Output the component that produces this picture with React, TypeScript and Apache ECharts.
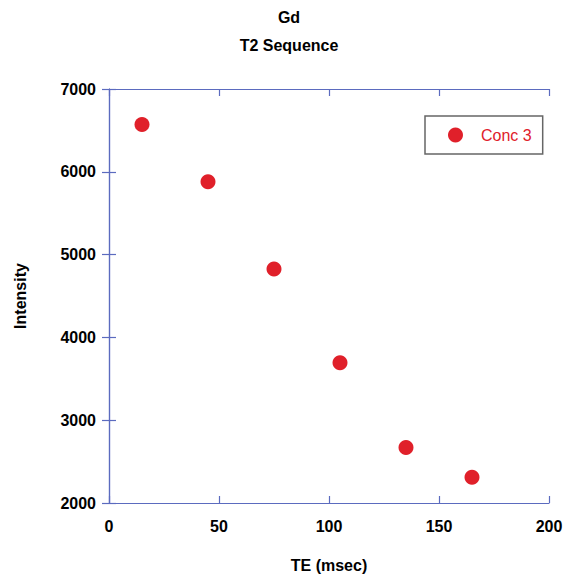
import React, { useEffect, useRef } from "react";
import * as echarts from "echarts";

const seriesName = "Conc 3";
const teValues = [15, 45, 75, 105, 135, 165];
const intensityValues = [6570, 5880, 4825, 3695, 2670, 2310];
const titleLines = ["Gd", "T2 Sequence"];
const xName = "TE (msec)";
const yName = "Intensity";

const AXIS_COLOR = "#5b6bbf";
const RED = "#e0202a";
const FONT = "Liberation Sans, Arial, sans-serif";

export default function App() {
  const ref = useRef<HTMLDivElement>(null);
  useEffect(() => {
    if (!ref.current) return;
    const chart = echarts.init(ref.current, undefined, { renderer: "svg" });
    const data = teValues.map((x, i) => [x, intensityValues[i]]);
    const grid = { left: 109, top: 89, width: 440, height: 415 };
    const tickCommon = { show: true, inside: true, length: 7, lineStyle: { color: AXIS_COLOR, width: 1.2 } };
    const lineCommon = { show: true, lineStyle: { color: AXIS_COLOR, width: 1.2 } };
    const labelCommon = {
      color: "#000",
      fontFamily: FONT,
      fontWeight: "bold" as const,
      fontSize: 16,
      formatter: (v: number) => String(v),
    };
    chart.setOption({
      animation: false,
      backgroundColor: "#fff",
      title: {
        text: titleLines.join("\n"),
        left: 289,
        top: 3,
        padding: 0,
        textAlign: "center",
        textStyle: { fontFamily: FONT, fontWeight: "bold", fontSize: 16, color: "#000", lineHeight: 28 },
      },
      grid,
      legend: {
        left: 425,
        top: 116,
        orient: "vertical",
        backgroundColor: "#fff",
        borderColor: "#666",
        borderWidth: 1.5,
        borderRadius: 0,
        padding: [11, 11, 11, 23],
        itemWidth: 15,
        itemHeight: 15,
        icon: "circle",
        textStyle: { color: RED, fontFamily: FONT, fontSize: 16, padding: [0, 0, 0, 13] },
        data: [seriesName],
      },
      xAxis: [
        {
          type: "value",
          min: 0,
          max: 200,
          interval: 50,
          position: "bottom",
          name: xName,
          nameLocation: "middle",
          nameGap: 54,
          nameTextStyle: { color: "#000", fontFamily: FONT, fontWeight: "bold", fontSize: 16 },
          axisLine: lineCommon,
          axisTick: tickCommon,
          axisLabel: { ...labelCommon, margin: 15 },
          splitLine: { show: false },
        },
        {
          type: "value",
          min: 0,
          max: 200,
          interval: 50,
          position: "top",
          axisLine: lineCommon,
          axisTick: tickCommon,
          axisLabel: { show: false },
          splitLine: { show: false },
        },
      ],
      yAxis: [
        {
          type: "value",
          min: 2000,
          max: 7000,
          interval: 1000,
          position: "left",
          name: yName,
          nameLocation: "middle",
          nameGap: 81,
          nameTextStyle: { color: "#000", fontFamily: FONT, fontWeight: "bold", fontSize: 16 },
          axisLine: lineCommon,
          axisTick: tickCommon,
          axisLabel: { ...labelCommon, margin: 13 },
          splitLine: { show: false },
        },
        {
          type: "value",
          min: 2000,
          max: 7000,
          interval: 1000,
          position: "right",
          axisLine: lineCommon,
          axisTick: tickCommon,
          axisLabel: { show: false },
          splitLine: { show: false },
        },
      ],
      series: [
        {
          name: seriesName,
          type: "scatter",
          xAxisIndex: 0,
          yAxisIndex: 0,
          data,
          symbol: "circle",
          symbolSize: [15, 15],
          itemStyle: { color: RED, opacity: 1 },
        },
      ],
    });
    return () => chart.dispose();
  }, []);
  return <div ref={ref} style={{ position: "fixed", left: 0, top: 0, width: 567, height: 578 }} />;
}
